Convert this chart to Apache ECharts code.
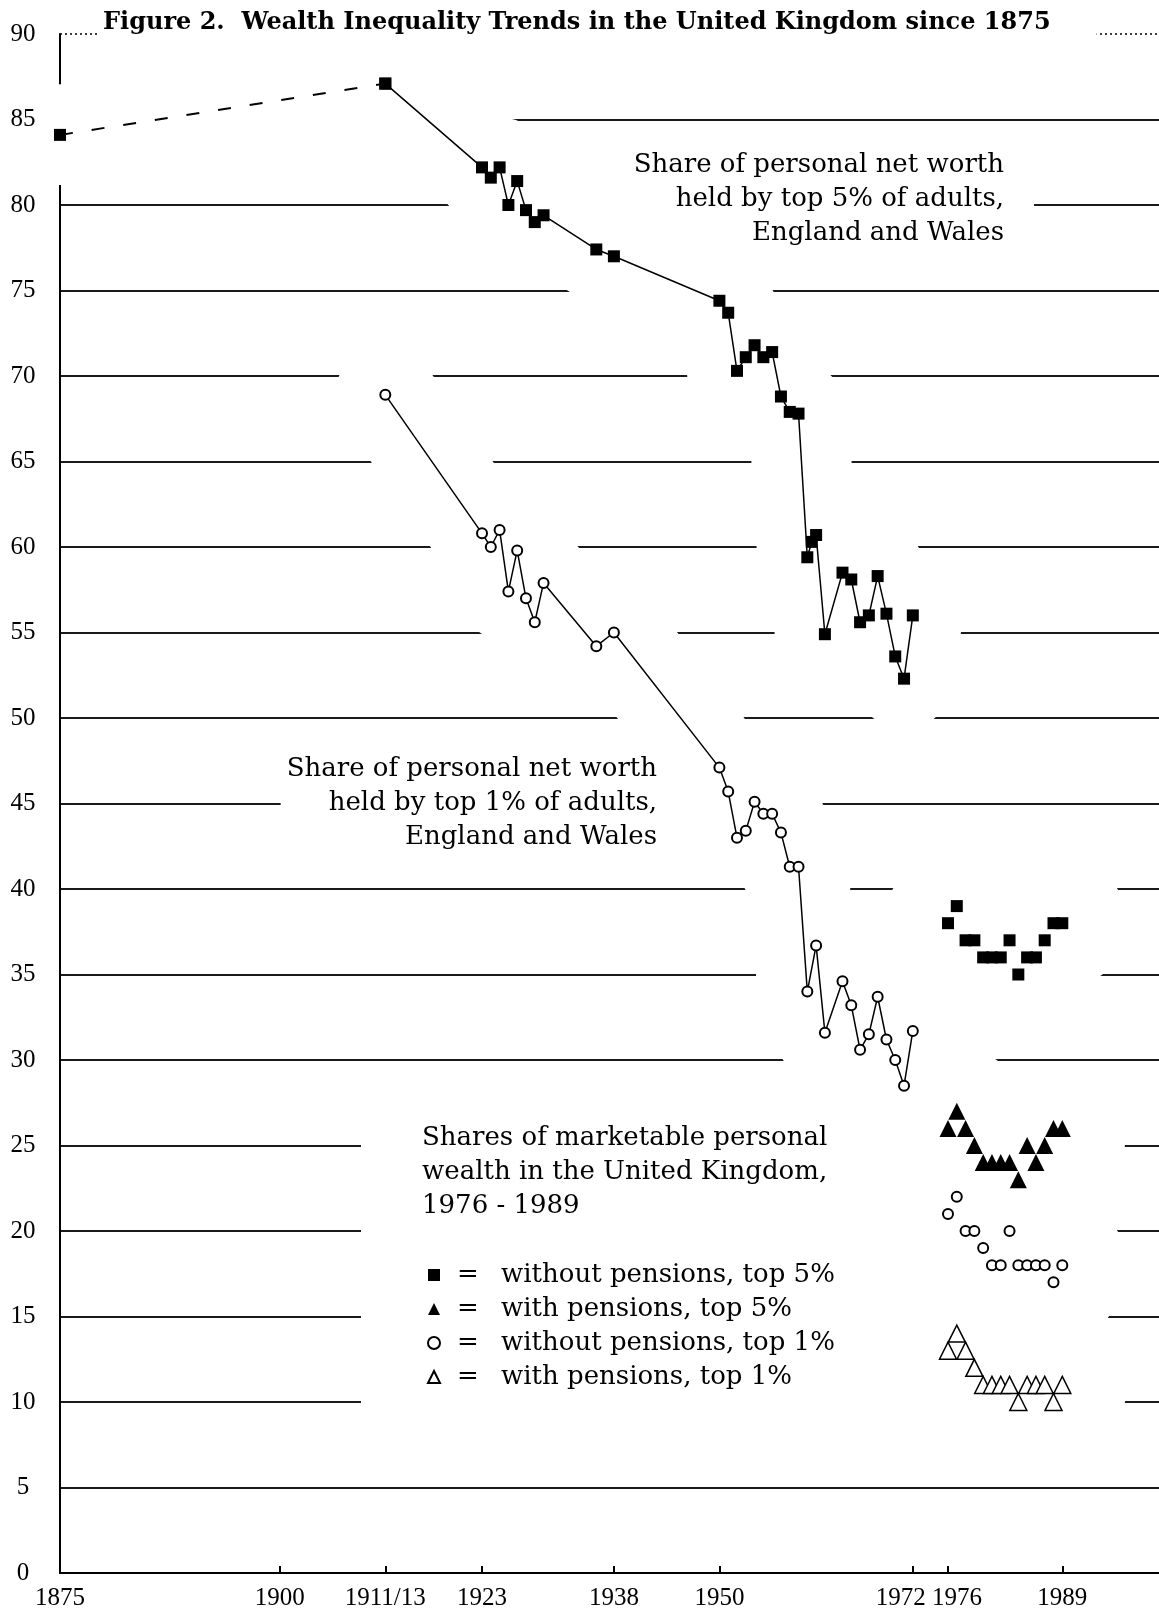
<!DOCTYPE html>
<html>
<head>
<meta charset="utf-8">
<title>Wealth Inequality Trends in the United Kingdom since 1875</title>
<script src="https://cdn.jsdelivr.net/npm/echarts@6/dist/echarts.min.js"></script>
<style>
    html, body { margin: 0; padding: 0; background: #fff; }
    #chart { width: 1159px; height: 1615px; }
</style>
</head>
<body>
<div id="chart"></div>
<script>
// early estimate, drawn dashed
var top5EarlyYears = [1875, 1912];
var top5EarlyValues = [84.1, 87.1];

// top 5% of adults, England and Wales
var top5Years = [1912, 1923, 1924, 1925, 1926, 1927, 1928, 1929, 1930, 1936, 1938,
    1950, 1951, 1952, 1953, 1954, 1955, 1956, 1957, 1958, 1959,
    1960, 1960.5, 1961, 1962, 1964, 1965, 1966, 1967, 1968, 1969, 1970, 1971, 1972];
var top5Values = [87.1, 82.2, 81.6, 82.2, 80.0, 81.4, 79.7, 79.0, 79.4, 77.4, 77.0,
    74.4, 73.7, 70.3, 71.1, 71.8, 71.1, 71.4, 68.8, 67.9, 67.8,
    59.4, 60.3, 60.7, 54.9, 58.5, 58.1, 55.6, 56.0, 58.3, 56.1, 53.6, 52.3, 56.0];

// top 1% of adults, England and Wales
var top1Years = [1912, 1923, 1924, 1925, 1926, 1927, 1928, 1929, 1930, 1936, 1938,
    1950, 1951, 1952, 1953, 1954, 1955, 1956, 1957, 1958, 1959,
    1960, 1961, 1962, 1964, 1965, 1966, 1967, 1968, 1969, 1970, 1971, 1972];
var top1Values = [68.9, 60.8, 60.0, 61.0, 57.4, 59.8, 57.0, 55.6, 57.9, 54.2, 55.0,
    47.1, 45.7, 43.0, 43.4, 45.1, 44.4, 44.4, 43.3, 41.3, 41.3,
    34.0, 36.7, 31.6, 34.6, 33.2, 30.6, 31.5, 33.7, 31.2, 30.0, 28.5, 31.7];

// marketable personal wealth, United Kingdom
var ukYears = [1976, 1977, 1978, 1979, 1980, 1981, 1982, 1983, 1984, 1985, 1986, 1987, 1988, 1989];
var top5NoPensions = [38, 39, 37, 37, 36, 36, 36, 37, 35, 36, 36, 37, 38, 38];
var top5WithPensions = [26, 27, 26, 25, 24, 24, 24, 24, 23, 25, 24, 25, 26, 26];
var top1NoPensions = [21, 22, 20, 20, 19, 18, 18, 20, 18, 18, 18, 18, 17, 18];
var top1WithPensions = [13, 14, 13, 12, 11, 11, 11, 11, 10, 11, 11, 11, 10, 11];

var xTickYears = [1875, 1900, 1912, 1923, 1938, 1950, 1972, 1976, 1989];
var xTickLabels = ['1875', '1900', '1911/13', '1923', '1938', '1950', '1972', '1976', '1989'];

var legendNames = ['without pensions, top 5%', 'with pensions, top 5%',
    'without pensions, top 1%', 'with pensions, top 1%'];

function pairs(xs, ys) {
    return xs.map(function (x, i) { return [x, ys[i]]; });
}

var early5 = pairs(top5EarlyYears, top5EarlyValues);
var line5 = pairs(top5Years, top5Values);
var line1 = pairs(top1Years, top1Values);
var recentAll = [].concat(
    pairs(ukYears, top5NoPensions), pairs(ukYears, top5WithPensions),
    pairs(ukYears, top1NoPensions), pairs(ukYears, top1WithPensions));

var serif = 'DejaVu Serif';
var tickFont = 'Liberation Serif';
var tickSize = 25;

// white band under the data so the rules break around it
function halo(data) {
    return {
        type: 'line', data: data, z: 1, silent: true, clip: false,
        symbol: 'none',
        lineStyle: { color: '#fff', width: 100, cap: 'round', join: 'round', opacity: 1 }
    };
}

var myChart = echarts.init(document.getElementById('chart'));

var option = {
    animation: false,
    backgroundColor: '#fff',
    title: {
        text: 'Figure 2.  Wealth Inequality Trends in the United Kingdom since 1875',
        left: 99,
        top: 9,
        z: 20,
        padding: [2, 46, 2, 4],
        backgroundColor: '#fff',
        textStyle: { fontFamily: serif, fontWeight: 'bold', fontSize: 24, color: '#000' }
    },
    grid: { left: 60, right: 0, top: 34, bottom: 42 },
    legend: {
        data: legendNames,
        orient: 'vertical',
        left: 427,
        top: 1260,
        padding: 0,
        itemGap: 4,
        itemWidth: 12,
        itemHeight: 12,
        selectedMode: false,
        z: 12,
        formatter: function (name) {
            return '{eq|=}{txt|' + name + '}';
        },
        textStyle: {
            fontFamily: serif, fontSize: 26, color: '#000', lineHeight: 30,
            rich: {
                eq: { width: 46, align: 'center', fontFamily: serif, fontSize: 26 },
                txt: { padding: [0, 0, 0, 10], fontFamily: serif, fontSize: 26 }
            }
        }
    },
    xAxis: {
        type: 'value',
        min: 1875,
        max: 2000,
        axisLine: { lineStyle: { color: '#000', width: 2 } },
        axisTick: {
            show: true, inside: true, length: 7,
            customValues: xTickYears,
            lineStyle: { color: '#000', width: 2 }
        },
        axisLabel: {
            customValues: xTickYears,
            margin: 13,
            color: '#000',
            fontFamily: tickFont,
            fontSize: tickSize,
            formatter: function (v) {
                var label = xTickLabels[xTickYears.indexOf(v)];
                if (v === 1972) return '{l|' + label + '}';
                if (v === 1976) return '{r|' + label + '}';
                return label;
            },
            rich: {
                l: { padding: [0, 24, 0, 0], fontFamily: tickFont, fontSize: tickSize, color: '#000' },
                r: { padding: [0, 0, 0, 18], fontFamily: tickFont, fontSize: tickSize, color: '#000' }
            }
        },
        splitLine: { show: false }
    },
    yAxis: [
        {
            type: 'value',
            min: 0, max: 90, interval: 5,
            axisLine: { show: true, lineStyle: { color: '#000', width: 2 } },
            axisTick: { show: false },
            axisLabel: { show: false },
            splitLine: {
                show: true, showMinLine: false, showMaxLine: false,
                lineStyle: { color: '#1a1a1a', width: 2 }
            }
        },
        {
            type: 'value',
            min: 0, max: 90, interval: 5,
            position: 'left', offset: 0, z: 5,
            axisLine: { show: false },
            axisTick: { show: false },
            splitLine: { show: false },
            axisLabel: { align: 'center', margin: 37, color: '#000', fontFamily: tickFont, fontSize: tickSize }
        }
    ],
    graphic: [
        {
            type: 'rect', z: 5, silent: true,
            shape: { x: 361, y: 1085, width: 560, height: 330 },
            style: { fill: '#fff' }
        },
        {
            type: 'text', z: 6, silent: true,
            x: 1034, y: 144,
            style: {
                text: 'Share of personal net worth\nheld by top 5% of adults,\nEngland and Wales',
                align: 'right', verticalAlign: 'top',
                font: '26px "DejaVu Serif"', lineHeight: 34, fill: '#000',
                backgroundColor: '#fff', padding: [4, 30, 4, 30]
            }
        },
        {
            type: 'text', z: 6, silent: true,
            x: 717, y: 748,
            style: {
                text: 'Share of personal net worth\nheld by top 1% of adults,\nEngland and Wales',
                align: 'right', verticalAlign: 'top',
                font: '26px "DejaVu Serif"', lineHeight: 34, fill: '#000',
                backgroundColor: '#fff', padding: [4, 60, 4, 6]
            }
        },
        {
            type: 'text', z: 6, silent: true,
            x: 422, y: 1121,
            style: {
                text: 'Shares of marketable personal\nwealth in the United Kingdom,\n1976 - 1989',
                align: 'left', verticalAlign: 'top',
                font: '26px "DejaVu Serif"', lineHeight: 34, fill: '#000'
            }
        }
    ],
    series: [
        halo([early5[0]].concat(line5)),
        halo(line1),
        {
            type: 'scatter', data: recentAll, z: 1, silent: true,
            symbol: 'circle', symbolSize: 130,
            itemStyle: { color: '#fff', opacity: 1 }
        },
        {
            name: 'top 5% early',
            type: 'line', data: early5, z: 10,
            symbol: 'rect', symbolSize: 12,
            itemStyle: { color: '#000' },
            lineStyle: { color: '#000', width: 2, type: [13, 19] }
        },
        {
            name: 'top 5%',
            type: 'line', data: line5, z: 10,
            symbol: 'rect', symbolSize: 12,
            itemStyle: { color: '#000' },
            lineStyle: { color: '#000', width: 1.5 },
            markLine: {
                silent: true,
                symbol: ['none', 'none'],
                label: { show: false },
                lineStyle: { color: '#000', width: 1.5, type: [2, 3] },
                data: [{ yAxis: 90 }]
            }
        },
        {
            name: 'top 1%',
            type: 'line', data: line1, z: 10,
            symbol: 'circle', symbolSize: 10,
            itemStyle: { color: '#fff', borderColor: '#000', borderWidth: 2 },
            lineStyle: { color: '#000', width: 1.5 }
        },
        {
            name: legendNames[0],
            type: 'scatter', data: pairs(ukYears, top5NoPensions), z: 10,
            symbol: 'rect', symbolSize: 12,
            itemStyle: { color: '#000', opacity: 1 }
        },
        {
            name: legendNames[1],
            type: 'scatter', data: pairs(ukYears, top5WithPensions), z: 10,
            symbol: 'triangle', symbolSize: 17,
            itemStyle: { color: '#000', opacity: 1 }
        },
        {
            name: legendNames[2],
            type: 'scatter', data: pairs(ukYears, top1NoPensions), z: 10,
            symbol: 'circle', symbolSize: 10,
            itemStyle: { color: '#fff', borderColor: '#000', borderWidth: 2, opacity: 1 }
        },
        {
            name: legendNames[3],
            type: 'scatter', data: pairs(ukYears, top1WithPensions), z: 10,
            symbol: 'triangle', symbolSize: 17,
            itemStyle: { color: '#fff', borderColor: '#000', borderWidth: 1.5, opacity: 1 }
        }
    ]
};

myChart.setOption(option);
</script>
</body>
</html>
